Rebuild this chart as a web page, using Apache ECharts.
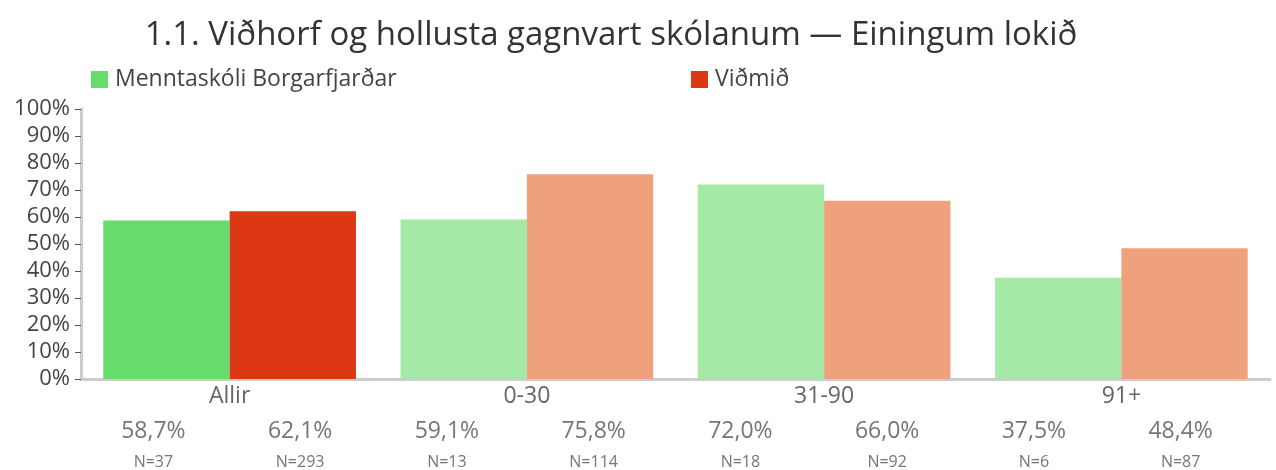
<!DOCTYPE html>
<html><head><meta charset="utf-8">
<script src="https://cdn.jsdelivr.net/npm/echarts@6/dist/echarts.min.js"></script>
<style>html,body{margin:0;padding:0;background:#fff}#c{width:1276px;height:470px}</style>
</head><body><div id="c"></div>
<script>
const categories = ['Allir', '0-30', '31-90', '91+'];
const schoolValues = [58.7, 59.1, 72.0, 37.5];
const benchValues = [62.1, 75.8, 66.0, 48.4];
const schoolN = [37, 13, 18, 6];
const benchN = [293, 114, 92, 87];
const seriesNames = ['Menntaskóli Borgarfjarðar', 'Viðmið'];
const titleText = '1.1. Viðhorf og hollusta gagnvart skólanum — Einingum lokið';

const FONT = '"Open Sans", "Noto Sans", sans-serif';
const schoolColors = ['#66DD6A', '#A4E9A5', '#A4E9A5', '#A4E9A5'];
const benchColors = ['#DD3814', '#EFA07C', '#EFA07C', '#EFA07C'];

function fmt(v){ return v.toFixed(1).replace('.', ',') + '%'; }

// interleaved bottom table labels: school, benchmark per category
const pctLabels = [];
const nLabels = [];
categories.forEach((c, i) => {
  pctLabels.push(fmt(schoolValues[i]));
  pctLabels.push(fmt(benchValues[i]));
  nLabels.push('N=' + schoolN[i]);
  nLabels.push('N=' + benchN[i]);
});

const legendText = { fontSize: 23, color: '#444', fontFamily: FONT, padding: [0,0,0,2] };

function tableAxis(data, offset, size){
  return {
    type: 'category', data: data, gridIndex: 1, position: 'bottom', offset: offset,
    axisLine: { show: false }, axisTick: { show: false }, splitLine: { show: false },
    axisLabel: { margin: 0, interval: 0, verticalAlign: 'middle', fontSize: size, color: '#757575', fontFamily: FONT }
  };
}

const chart = echarts.init(document.getElementById('c'), null, {renderer: 'canvas'});
chart.setOption({
  animation: false,
  textStyle: { fontFamily: FONT },
  title: {
    text: titleText, left: 606, top: 14, textAlign: 'center',
    textStyle: { fontSize: 33, fontWeight: 'normal', color: '#333', fontFamily: FONT }
  },
  legend: [
    { left: 86, top: 63, itemWidth: 17, itemHeight: 17, icon: 'rect', textStyle: legendText, data: [seriesNames[0]] },
    { left: 686, top: 63, itemWidth: 17, itemHeight: 17, icon: 'rect', textStyle: legendText, data: [seriesNames[1]] }
  ],
  grid: [
    { left: 81, right: 6, top: 109, bottom: 91, containLabel: false },
    { left: 80, right: 22, top: 109, bottom: 91, containLabel: false }
  ],
  xAxis: [
    {
      type: 'category', data: categories, gridIndex: 0,
      axisLine: { lineStyle: { color: '#cccccc', width: 3 } },
      axisTick: { show: false },
      axisLabel: { fontSize: 23, color: '#666', margin: 0, verticalAlign: 'middle', fontFamily: FONT },
      offset: 17
    },
    tableAxis(pctLabels, 55, 23),
    tableAxis(nLabels, 86, 16)
  ],
  yAxis: [
    {
      type: 'value', min: 0, max: 100, interval: 10, gridIndex: 0,
      axisLine: { show: true, lineStyle: { color: '#cccccc', width: 3 } },
      axisTick: { show: true, length: 6, lineStyle: { color: '#555', width: 1 } },
      splitLine: { show: false },
      axisLabel: { formatter: '{value}%', fontSize: 22, color: '#444', margin: 11, fontFamily: FONT }
    },
    { type: 'value', gridIndex: 1, min: 0, max: 100, show: false }
  ],
  series: [
    {
      name: seriesNames[0], type: 'bar', barGap: '0%', barCategoryGap: '15%',
      itemStyle: { color: '#66DD6A' },
      data: schoolValues.map((v, i) => ({ value: v, itemStyle: { color: schoolColors[i] } }))
    },
    {
      name: seriesNames[1], type: 'bar', barGap: '0%', barCategoryGap: '15%',
      itemStyle: { color: '#DD3814' },
      data: benchValues.map((v, i) => ({ value: v, itemStyle: { color: benchColors[i] } }))
    }
  ]
});
</script></body></html>
